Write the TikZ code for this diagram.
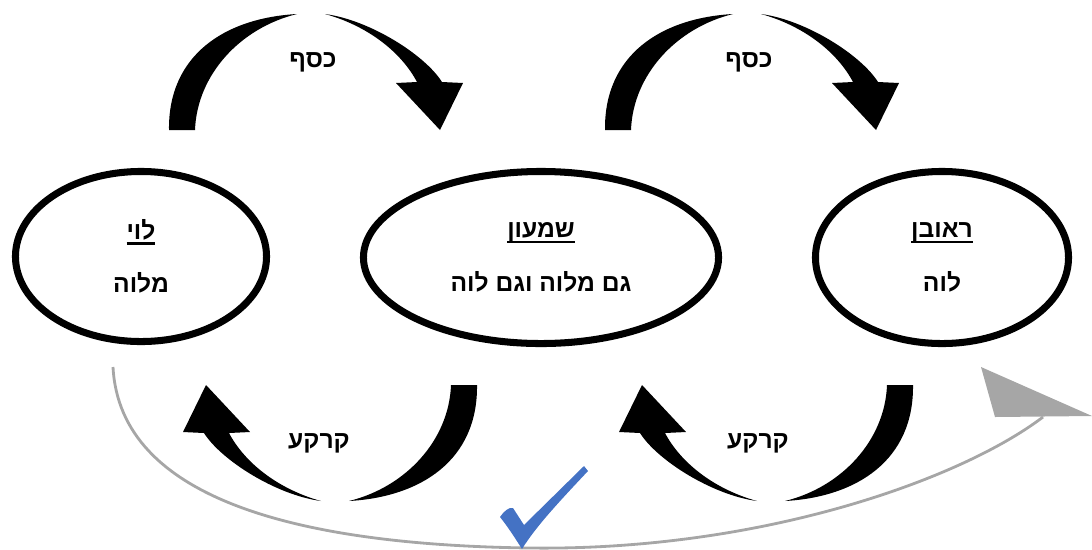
\documentclass[tikz,border=0pt]{standalone}
\usepackage{fontspec}
\setmainfont{Liberation Sans}
\newfontfamily\hebfont[Script=Hebrew]{Liberation Sans}
\TeXXeTstate=1
\usepackage{tikz}
\usetikzlibrary{shapes.geometric}

\definecolor{arcgray}{RGB}{166,166,166}
\definecolor{tickblue}{RGB}{68,114,196}
\newcommand{\rtl}[1]{\beginR#1\endR}
\newcommand{\ulrtl}[1]{\setbox0\hbox{\beginR#1\endR}\hbox{\rlap{\rule[-3.8pt]{\wd0}{1.8pt}}\box0}}

\tikzset{
  person/.style={ellipse, draw, line width=5pt, align=center, inner sep=0pt,
    font=\hebfont\bfseries\fontsize{17.5}{38}\selectfont},
  word/.style={font=\hebfont\bfseries\fontsize{17.5}{20}\selectfont, inner sep=1pt},
  bigarrow/.pic={
    \fill (169,130) .. controls (168,55) and (225,18) .. (297,14)
       .. controls (240,28) and (197,75) .. (195,130) -- cycle;
    \fill (325,14) .. controls (370,20) and (425,55) .. (442,82)
       -- (463,83) -- (440,130) -- (396,83) -- (417,82)
       .. controls (400,50) and (365,25) .. (325,14) -- cycle;
  }
}

\begin{document}
\begin{tikzpicture}[x=0.025cm, y=-0.025cm]
  \useasboundingbox (0,0) rectangle (1092,549);

  % the three people
  \node[person, minimum width=6.275cm, minimum height=4.25cm] (levi) at (141,256.5)
    {\ulrtl{לוי}\\ \rtl{מלוה}};
  \node[person, minimum width=8.875cm, minimum height=4.3cm] (shimon) at (541,257.5)
    {\ulrtl{שמעון}\\ \rtl{גם מלוה וגם לוה}};
  \node[person, minimum width=6.325cm, minimum height=4.3cm] (reuven) at (942,257.5)
    {\ulrtl{ראובן}\\ \rtl{לוה}};

  % money goes right, land comes back
  \pic at (0,0) {bigarrow};
  \pic at (436,0) {bigarrow};
  \pic[rotate=180] at (646,515) {bigarrow};
  \pic[rotate=180] at (1082,515) {bigarrow};

  \node[word] (kesef1) at (313,62) {\rtl{כסף}};
  \node[word] (kesef2) at (749,62) {\rtl{כסף}};
  \node[word] (karka1) at (319,443) {\rtl{קרקע}};
  \node[word] (karka2) at (758,443) {\rtl{קרקע}};

  % gray path from levi round to reuven
  \coordinate (gstart) at (113,367);
  \coordinate (gend) at (1043,417);
  \draw[arcgray, line width=2pt] (gstart) .. controls (120,500) and (300,545) .. (530,548)
    .. controls (760,551) and (960,480) .. (gend);
  \fill[arcgray] (981,367) -- (1092,416) -- (995,417) -- cycle;

  % tick
  \fill[tickblue] (500,517) .. controls (504,511) and (509,507) .. (513,508)
    -- (524,525) -- (584,466) -- (588,471)
    .. controls (555,506) and (535,528) .. (522,549)
    .. controls (515,538) and (508,527) .. (500,517) -- cycle;
\end{tikzpicture}
\end{document}
